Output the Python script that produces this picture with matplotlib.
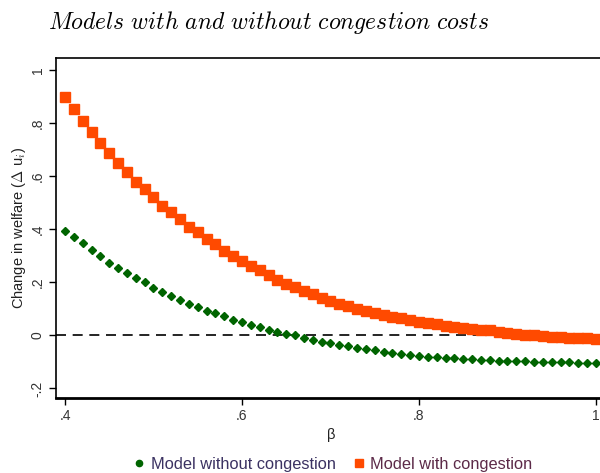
import matplotlib
matplotlib.use("Agg")
import matplotlib.pyplot as plt
from matplotlib.lines import Line2D

plt.rcParams['font.family'] = ['Liberation Sans', 'DejaVu Sans']
plt.rcParams['mathtext.fontset'] = 'cm'

# beta grid, step .01 from .4 to 1
beta = [round(0.40 + 0.01 * k, 2) for k in range(61)]

# change in welfare, model without congestion costs
no_congestion = [
    0.396, 0.371, 0.347, 0.321, 0.299, 0.275, 0.255, 0.235, 0.215, 0.200,
    0.180, 0.165, 0.150, 0.135, 0.120, 0.108, 0.094, 0.084, 0.072, 0.060,
    0.049, 0.039, 0.032, 0.021, 0.013, 0.007, 0.000, -0.010, -0.016, -0.023,
    -0.030, -0.036, -0.041, -0.046, -0.051, -0.056, -0.061, -0.066, -0.071, -0.074,
    -0.077, -0.081, -0.083, -0.085, -0.087, -0.089, -0.090, -0.093, -0.094, -0.095,
    -0.096, -0.097, -0.098, -0.099, -0.100, -0.101, -0.101, -0.102, -0.103, -0.103,
    -0.104,
]

# change in welfare, model with congestion costs
with_congestion = [
    0.899, 0.853, 0.809, 0.767, 0.727, 0.687, 0.652, 0.615, 0.580, 0.551,
    0.521, 0.489, 0.464, 0.439, 0.409, 0.389, 0.365, 0.345, 0.320, 0.298,
    0.282, 0.263, 0.246, 0.228, 0.211, 0.195, 0.181, 0.166, 0.156, 0.141,
    0.129, 0.120, 0.110, 0.101, 0.093, 0.085, 0.078, 0.071, 0.064, 0.058,
    0.052, 0.047, 0.042, 0.037, 0.033, 0.029, 0.025, 0.021, 0.019, 0.014,
    0.010, 0.006, 0.003, 0.000, -0.003, -0.005, -0.007, -0.009, -0.010, -0.011,
    -0.012,
]

x_ticks = [0.4, 0.6, 0.8, 1.0]
x_ticklabels = [".4", ".6", ".8", "1"]
y_ticks = [-0.2, 0, 0.2, 0.4, 0.6, 0.8, 1.0]
y_ticklabels = ["-.2", "0", ".2", ".4", ".6", ".8", "1"]

green = "#006400"
orange = "#ff4a00"

fig = plt.figure(figsize=(6, 4.73), dpi=100)
ax = fig.add_axes([0.0933, 0.1586, 0.915, 0.7188])

ax.axhline(0, color="black", linestyle=(0, (6, 4)), linewidth=1.2, zorder=1)
ax.plot(beta, no_congestion, linestyle="none", marker="D", markersize=4.0,
        color=green, zorder=3)
ax.plot(beta, with_congestion, linestyle="none", marker="s", markersize=6.6,
        color=orange, zorder=2)

ax.set_xlim(0.3898, 1.0102)
ax.set_ylim(-0.236, 1.047)
ax.set_xticks(x_ticks)
ax.set_xticklabels(x_ticklabels)
ax.set_yticks(y_ticks)
ax.set_yticklabels(y_ticklabels, rotation=90, va="center")
ax.tick_params(direction="out", length=5, width=1, labelsize=10,
               labelcolor="#333333")
ax.tick_params(axis="x", pad=3)
ax.tick_params(axis="y", pad=3)
for side in ["left", "top"]:
    ax.spines[side].set_linewidth(1.2)
ax.spines["bottom"].set_linewidth(2)
ax.spines["right"].set_visible(False)

ax.set_xlabel(r"$\mathregular{\beta}$", fontsize=10.5, color="#222222", labelpad=2)
ax.set_ylabel(r"Change in welfare ($\Delta$ u$_i$)", fontsize=10.5,
              color="#222222", labelpad=2)

fig.text(0.448, 0.952,
         r"$\mathit{Models\ with\ and\ without\ congestion\ costs}$",
         fontsize=17, ha="center", va="center")

handles = [
    Line2D([], [], linestyle="none", marker="o", markersize=4.5, color=green),
    Line2D([], [], linestyle="none", marker="s", markersize=6, color=orange),
]
leg = fig.legend(handles, ["Model without congestion", "Model with congestion"],
                 loc="center", bbox_to_anchor=(0.553, 0.019), ncol=2,
                 frameon=False, fontsize=11.8, handletextpad=0.2,
                 columnspacing=0.9, handlelength=1.0)
leg.get_texts()[0].set_color("#3b3262")
leg.get_texts()[1].set_color("#5c2a48")

fig.savefig("out.png", dpi=100)
